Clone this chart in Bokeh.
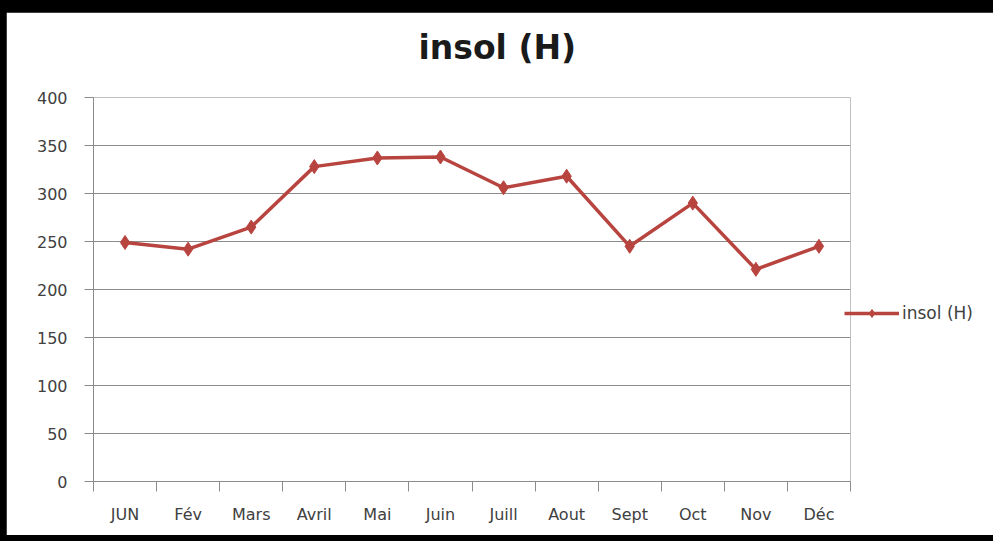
from bokeh.plotting import figure
from bokeh.models import (Range1d, FixedTicker, Legend, LegendItem, ColumnDataSource, Title)
from bokeh.layouts import column
from bokeh.embed import file_html
from bokeh.resources import INLINE

months = ["JUN", "Fév", "Mars", "Avril", "Mai", "Juin", "Juill", "Aout", "Sept", "Oct", "Nov", "Déc"]
insol = [249, 242, 265, 328, 337, 338, 306, 318, 245, 290, 221, 245]
y_ticks = [0, 50, 100, 150, 200, 250, 300, 350, 400]
series_name = "insol (H)"

xs = [i + 0.5 for i in range(len(months))]
src = ColumnDataSource(dict(x=xs, y=insol))

FONT = "DejaVu Sans"
RED = "#B8443F"
GRID = "#8C8C8C"
TXT = "#404040"

p = figure(frame_width=757, frame_height=384, output_backend="svg", toolbar_location=None,
           x_range=Range1d(0, len(months)), y_range=Range1d(0, 400),
           min_border_left=87, min_border_right=137, min_border_top=85, min_border_bottom=54,
           border_fill_color="white", background_fill_color="white", outline_line_color=None)

# spacer between title and frame
p.add_layout(Title(text=" ", standoff=28, text_font_size="1px"), "above")

p.title.text = series_name
p.title.align = "left"
p.title.offset = 325
p.title.standoff = 0
p.title.text_font = FONT
p.title.text_font_size = "33px"
p.title.text_font_style = "bold"
p.title.text_color = "#1a1a1a"

# x axis: labels at centres, ticks at boundaries
p.xaxis.ticker = FixedTicker(ticks=xs, minor_ticks=list(range(len(months) + 1)))
p.xaxis.major_label_overrides = {x: m for x, m in zip(xs, months)}
p.xaxis.major_tick_out = 0
p.xaxis.major_tick_in = 0
p.xaxis.minor_tick_out = 10
p.xaxis.minor_tick_in = 0
p.xaxis.minor_tick_line_color = GRID
p.xaxis.major_label_standoff = 13
p.xgrid.grid_line_color = None

p.yaxis.ticker = FixedTicker(ticks=y_ticks)
p.yaxis.major_tick_out = 9
p.yaxis.major_tick_in = 0
p.yaxis.minor_tick_line_color = None
p.yaxis.major_label_standoff = 17
p.ygrid.grid_line_color = GRID
p.ygrid.grid_line_width = 1

for ax in (p.xaxis, p.yaxis):
    ax.axis_line_color = GRID
    ax.major_tick_line_color = GRID
    ax.major_label_text_font = FONT
    ax.major_label_text_font_size = "16px"
    ax.major_label_text_color = TXT

r_line = p.line("x", "y", source=src, line_color=RED, line_width=3.5)
r_pts = p.scatter("x", "y", source=src, marker="diamond", size=14, fill_color=RED, line_color=RED)

legend = Legend(items=[LegendItem(label=series_name, renderers=[r_line, r_pts])],
                location=(-6, 158), border_line_color=None, background_fill_alpha=0,
                label_text_font=FONT, label_text_font_size="17px", label_text_color=TXT,
                glyph_width=55, glyph_height=20, label_standoff=3, padding=0, margin=0, spacing=0)
p.add_layout(legend, "right")

layout = column(p, styles={"background-color": "black", "padding": "12px 6px 6px 6px"})

open("out.html", "w").write(file_html(layout, INLINE))
